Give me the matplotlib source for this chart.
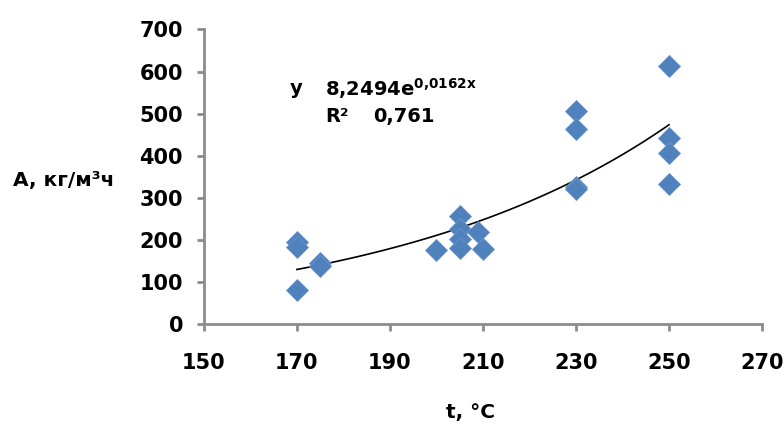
import numpy as np
import matplotlib
matplotlib.use("Agg")
import matplotlib.pyplot as plt

plt.rcParams['font.family'] = ['DejaVu Sans']
plt.rcParams['font.weight'] = 'bold'
plt.rcParams['mathtext.default'] = 'bf'

# температура, °C
t_vals = [170, 170, 170, 175, 175, 200, 205, 205, 205, 205, 209, 210,
          230, 230, 230, 230, 250, 250, 250, 250]
# A, кг/м3ч
a_vals = [196, 183, 82, 145, 139, 177, 257, 225, 203, 180, 219, 178,
          506, 463, 325, 320, 614, 442, 406, 332]

# линия тренда y = 8,2494 e^(0,0162x)
k_a = 8.2494
k_b = 0.0162

x_ticks = [150, 170, 190, 210, 230, 250, 270]
y_ticks = [0, 100, 200, 300, 400, 500, 600, 700]

fig = plt.figure(figsize=(7.84, 4.30), dpi=100, facecolor='white')
ax = fig.add_axes([0.260, 0.2465, 0.712, 0.685])

ax.plot(t_vals, a_vals, 'D', color='#4F81BD', markersize=11,
        markeredgecolor='#6A94C8', markeredgewidth=0.6, zorder=3)

tx = np.linspace(min(t_vals), max(t_vals), 100)
ax.plot(tx, k_a * np.exp(k_b * tx), color='black', linewidth=1.2, zorder=2)

ax.set_xlim(150, 270)
ax.set_ylim(0, 700)
ax.set_xticks(x_ticks)
ax.set_yticks(y_ticks)

for s in ['top', 'right']:
    ax.spines[s].set_visible(False)
for s in ['left', 'bottom']:
    ax.spines[s].set_color('#8c8c8c')
    ax.spines[s].set_linewidth(2)
ax.tick_params(colors='#8c8c8c', width=2, length=5, labelcolor='black',
               labelsize=15)
ax.tick_params(axis='x', pad=16)
ax.tick_params(axis='y', pad=10)

ax.text(0.154, 0.801, 'y', transform=ax.transAxes, fontsize=14, va='center')
ax.text(0.217, 0.801, '8,2494e$^{0{,}0162x}$', transform=ax.transAxes,
        fontsize=14, va='center')
ax.text(0.217, 0.703, 'R²', transform=ax.transAxes, fontsize=14, va='center')
ax.text(0.303, 0.703, '0,761', transform=ax.transAxes, fontsize=14, va='center')

fig.text(0.016, 0.581, 'A, кг/м³ч', fontsize=14.5, va='center')
fig.text(0.60, 0.04, 't, °C', fontsize=14.5, ha='center', va='center')

fig.savefig('out.png', dpi=100)
